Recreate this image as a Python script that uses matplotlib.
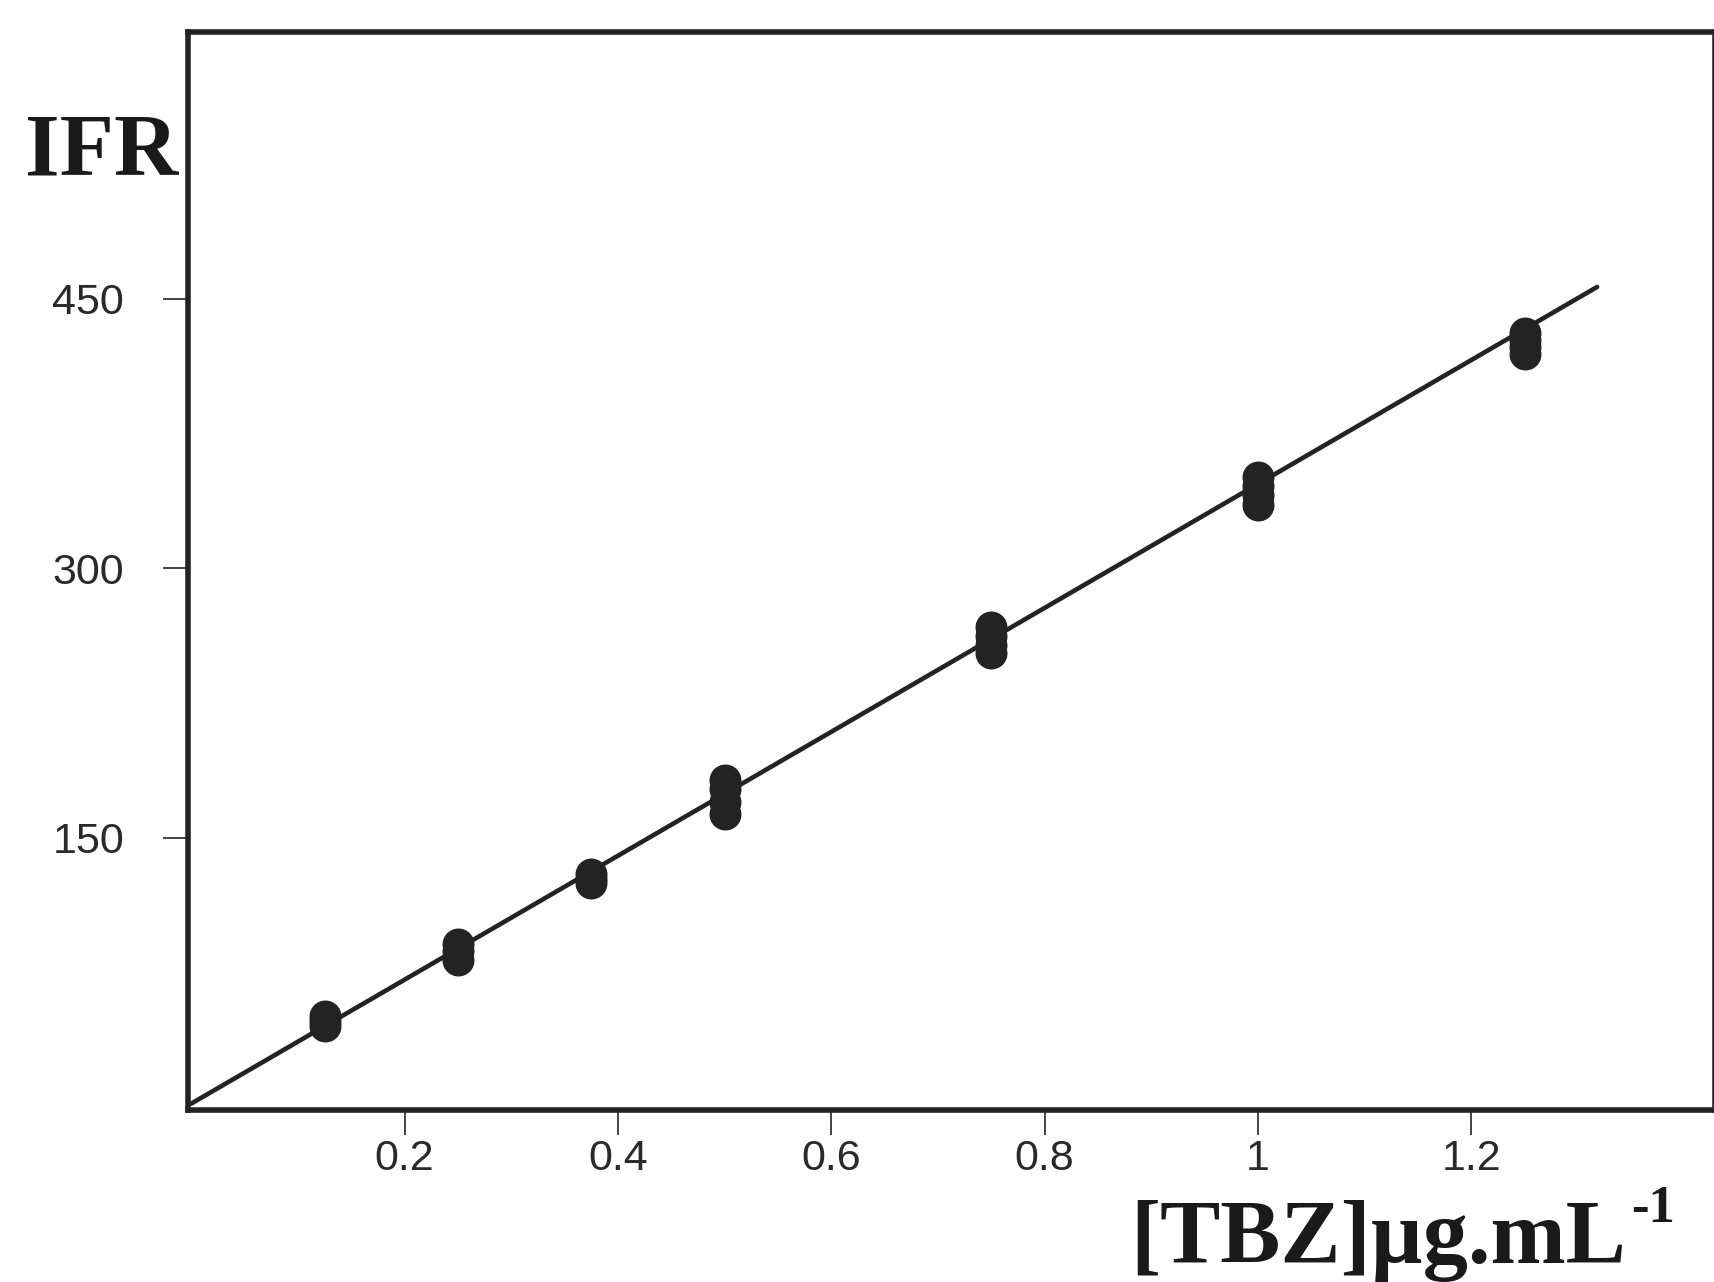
import matplotlib.pyplot as plt

# concentrations of TBZ (ug/mL) and the replicate IFR readings at each one
conc = [0.125, 0.25, 0.375, 0.5, 0.75, 1.0, 1.25]
reps = [
    [51, 48, 45],
    [91, 87, 82],
    [130, 127, 125],
    [182, 177, 170, 163],
    [267, 262, 257, 253],
    [351, 346, 341, 335],
    [431, 427, 423, 419],
]

# calibration line end points
fit_x = [0.0, 1.318]
fit_y = [2.0, 456.5]

x_ticks = [0.2, 0.4, 0.6, 0.8, 1.0, 1.2]
x_labels = ['0.2', '0.4', '0.6', '0.8', '1', '1.2']
y_ticks = [150, 300, 450]

ink = '#232323'

fig = plt.figure(figsize=(17.15, 12.82), dpi=100)
ax = fig.add_axes([0.1096, 0.1342, 0.8904, 0.841])

ax.plot(fit_x, fit_y, color=ink, lw=3.3, solid_capstyle='round', zorder=2)
for c, vals in zip(conc, reps):
    ax.plot([c] * len(vals), vals, 'o', color=ink, ms=22, mec=ink, zorder=3)

ax.set_xlim(-0.003, 1.4285)
ax.set_ylim(-1.5, 598.5)

ax.set_xticks(x_ticks)
ax.set_xticklabels(x_labels)
ax.set_yticks(y_ticks)

for s in ax.spines.values():
    s.set_linewidth(4)
    s.set_color(ink)

ax.tick_params(axis='both', direction='out', length=18, width=1.4, color='#444444',
               labelsize=31, labelcolor='#2a2a2a')
ax.tick_params(axis='x', pad=3)
ax.tick_params(axis='y', pad=28)
for lab in ax.get_xticklabels() + ax.get_yticklabels():
    lab.set_fontfamily('Liberation Sans')

fig.text(0.0146, 0.8635, 'IFR', family='Liberation Serif', weight='bold',
         fontsize=64, color='#1a1a1a', va='baseline', ha='left')
fig.text(0.659, 0.0148, '[TBZ]\u00b5g.mL', family='Liberation Serif', weight='bold',
         fontsize=65, color='#1a1a1a', va='baseline', ha='left')
fig.text(0.951, 0.0468, '-1', family='Liberation Serif', weight='bold',
         fontsize=38, color='#1a1a1a', va='baseline', ha='left')

fig.savefig('out.png', dpi=100, facecolor='white')
